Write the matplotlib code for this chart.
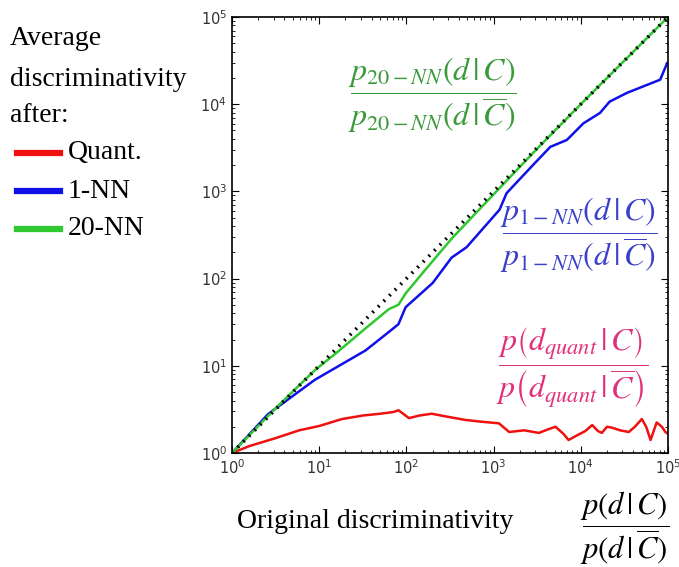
import matplotlib
matplotlib.use("Agg")
import matplotlib.pyplot as plt
from matplotlib.ticker import LogLocator, NullFormatter

plt.rcParams['mathtext.fontset'] = 'stix'
plt.rcParams['font.family'] = 'DejaVu Sans'

# values (log-log)
ref_x = [1, 100000]
ref_y = [1, 100000]

nn20_x = [1, 3.2, 8.9, 15.8, 34, 63, 81, 98, 158, 331, 1175, 3160, 10000, 31600, 100000]
nn20_y = [1, 3.3, 8.9, 14.1, 26.9, 44.7, 50.1, 67.6, 120, 288, 1096, 3090, 10000, 31600, 100000]

nn1_x = [1, 2.6, 8.9, 34, 68, 81, 98, 200, 330, 490, 1170, 1410, 2820, 4470, 6920,
         10700, 16600, 21400, 33900, 81300, 97700]
nn1_y = [1, 2.8, 6.9, 15, 26, 30, 47, 89, 174, 229, 617, 955, 2000, 3240, 3890,
         6030, 7940, 10700, 13500, 19100, 29500]

quant_x = [1, 1.58, 3.16, 5.89, 10, 18.2, 31.6, 50.1, 70.8, 81.3, 107, 141, 195, 282,
           468, 708, 1150, 1510, 2240, 3310, 4170, 5130, 6310, 7240, 8910, 11200, 13500,
           15800, 17400, 20000, 22900, 28200, 35500, 41700, 50100, 56200, 63100, 74100,
           85100, 93300, 100000]
quant_y = [1, 1.20, 1.48, 1.82, 2.04, 2.45, 2.69, 2.82, 2.95, 3.09, 2.51, 2.69, 2.82, 2.63,
           2.40, 2.29, 2.19, 1.74, 1.82, 1.70, 1.86, 2.00, 1.66, 1.41, 1.58, 1.78, 2.09,
           1.78, 1.70, 2.00, 1.95, 1.82, 1.74, 2.00, 2.45, 2.00, 1.41, 2.24, 2.00, 1.74, 1.66]

title_lines = ["Average", "discriminativity", "after:"]
title_base = [45, 86, 122]
legend_labels = ["Quant.", "1-NN", "20-NN"]
legend_colors = ["#f01010", "#1010e8", "#30c830"]

fig = plt.figure(figsize=(6.79, 5.67), dpi=100)
ax = fig.add_axes([232/679, (567-453)/567, 436/679, 436/567])

ax.plot(quant_x, quant_y, color=legend_colors[0], lw=1.8)
ax.plot(nn1_x, nn1_y, color=legend_colors[1], lw=1.8)
ax.plot(nn20_x, nn20_y, color=legend_colors[2], lw=1.8)
ax.plot(ref_x, ref_y, color='black', lw=2.6, linestyle=(0, (0.5, 1.7)))

ax.set_xscale('log')
ax.set_yscale('log')
ax.set_xlim(1, 1e5)
ax.set_ylim(1, 1e5)
ax.xaxis.set_minor_locator(LogLocator(base=10, subs=range(2, 10), numticks=20))
ax.yaxis.set_minor_locator(LogLocator(base=10, subs=range(2, 10), numticks=20))
ax.xaxis.set_minor_formatter(NullFormatter())
ax.yaxis.set_minor_formatter(NullFormatter())
ax.tick_params(which='both', direction='in', top=True, right=True, labelsize=10.5,
               labelcolor='#333333')
ax.tick_params(which='major', length=5)
ax.tick_params(which='minor', length=2.5)
for s in ax.spines.values():
    s.set_linewidth(1.2)

# annotations
ax.text(0.46, 0.82,
        r'$\dfrac{p_{20-NN}\left(d\,|\,C\right)}{p_{20-NN}\left(d\,|\,\overline{C}\right)}$',
        transform=ax.transAxes, ha='center', va='center', fontsize=23, color='#3a9a3a')
ax.text(0.795, 0.50,
        r'$\dfrac{p_{1-NN}\left(d\,|\,C\right)}{p_{1-NN}\left(d\,|\,\overline{C}\right)}$',
        transform=ax.transAxes, ha='center', va='center', fontsize=23, color='#3a40c8')
ax.text(0.78, 0.195,
        r'$\dfrac{p\left(d_{quant}\,|\,C\right)}{p\left(d_{quant}\,|\,\overline{C}\right)}$',
        transform=ax.transAxes, ha='center', va='center', fontsize=23, color='#e0307a')

# left legend block
for i, line in enumerate(title_lines):
    fig.text(10/679, 1 - title_base[i]/567, line, family='Liberation Serif',
             fontsize=20, va='baseline', ha='left')
for i, (lab, col) in enumerate(zip(legend_labels, legend_colors)):
    yy = 1 - (153 + 38*i)/567
    fig.add_artist(plt.Line2D([17/679, 60/679], [yy, yy], color=col, lw=4.5))
    fig.text(68/679, yy, lab, family='Liberation Serif', fontsize=20, va='center', ha='left')

# x label
fig.text(237/679, 1 - 522/567, "Original discriminativity", family='Liberation Serif',
         fontsize=20, va='center', ha='left')
fig.text(625/679, 1 - 528/567,
         r'$\dfrac{p\left(d\,|\,C\right)}{p\left(d\,|\,\overline{C}\right)}$',
         fontsize=22, ha='center', va='center', color='black')

fig.savefig("out.png", dpi=100)
